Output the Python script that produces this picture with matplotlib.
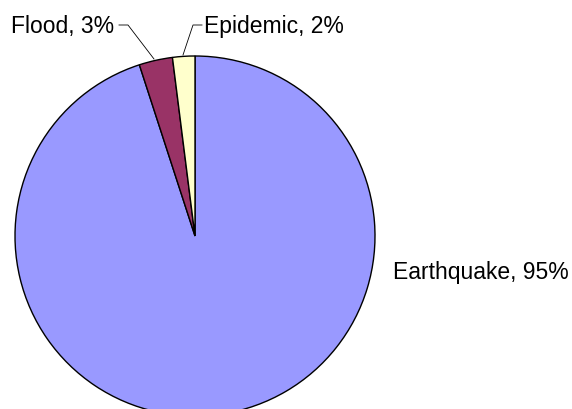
import matplotlib
matplotlib.use('Agg')
import matplotlib.pyplot as plt

labels = ['Earthquake', 'Flood', 'Epidemic']
shares = [95, 3, 2]
colors = ['#9999FF', '#993366', '#FFFFCC']

W, H = 572, 410
fig = plt.figure(figsize=(W / 100, H / 100), dpi=100)
ax = fig.add_axes([0, 0, 1, 1])

cx, cy, r = 195, H - 237, 180
ax.pie(shares, colors=colors, startangle=90, counterclock=False,
       center=(cx, cy), radius=r, frame=True,
       wedgeprops=dict(edgecolor='black', linewidth=1.0))
ax.set_xlim(0, W)
ax.set_ylim(0, H)
ax.set_aspect('equal')
ax.axis('off')

font = dict(family='Liberation Sans', fontsize=16.5, color='black')

# Flood label with leader line
ax.text(11, H - 27, f'{labels[1]}, {shares[1]}%', ha='left', va='center', **font)
ax.plot([119, 128, 154], [H - 26, H - 26, H - 60], color='black', lw=0.6)

# Epidemic label with leader line
ax.text(204, H - 27, f'{labels[2]}, {shares[2]}%', ha='left', va='center', **font)
ax.plot([202, 193, 183], [H - 26, H - 26, H - 56], color='black', lw=0.6)

# Earthquake label
ax.text(393, H - 272, f'{labels[0]}, {shares[0]}%', ha='left', va='center', **font)

fig.savefig('out.png', dpi=100)
